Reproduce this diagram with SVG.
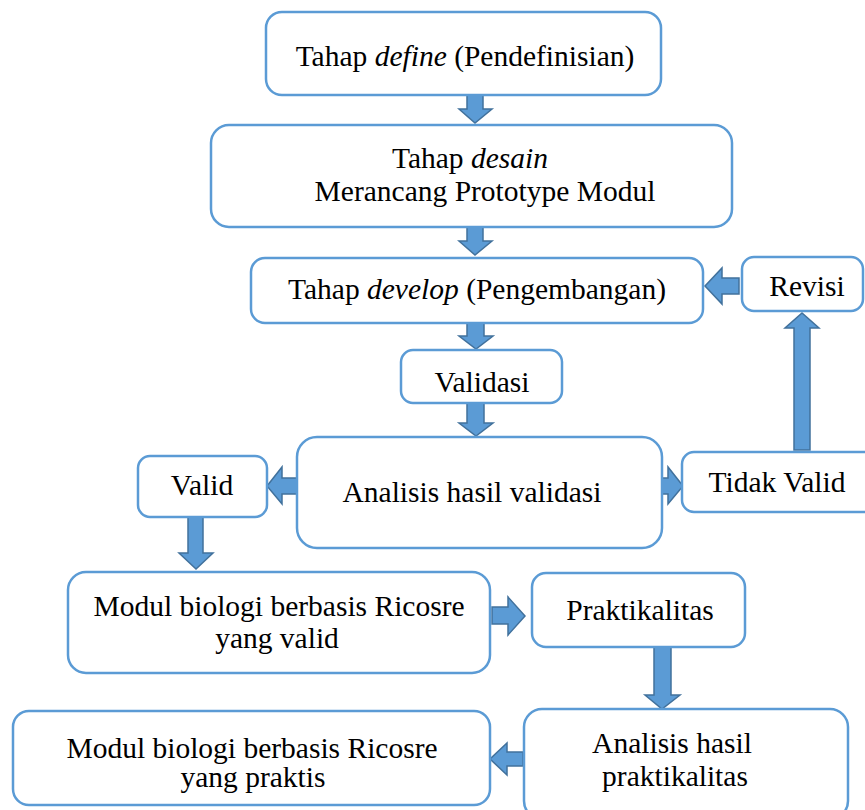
<svg xmlns="http://www.w3.org/2000/svg" width="865" height="810" viewBox="0 0 865 810">
<style>
.box{fill:#fff;stroke:#5B9BD5;stroke-width:2.5}
.arr{fill:#5B9BD5;stroke:#41719C;stroke-width:1.5;stroke-linejoin:miter}
text{font-family:"Liberation Serif","Times New Roman",serif;font-size:29.5px;fill:#000;text-anchor:middle}
</style>
<rect width="865" height="810" fill="#fff"/>
<g id="connectors">
<path class="arr" d="M467,95 H483 V109 H492 L475,123 L459,109 H467 Z"/>
<path class="arr" d="M467,227 H483 V241 H492 L475,255 L459,241 H467 Z"/>
<path class="arr" d="M467,323 H484 V336 H493 L476,349 L459,336 H467 Z"/>
<path class="arr" d="M467,403 H484 V423 H493 L476,436 L459,423 H467 Z"/>
<path class="arr" d="M739,278 V294 H722 V304 L705,286 L722,268 V278 Z"/>
<path class="arr" d="M794,450 V328 H785 L802,313 L819,328 H810 V450 Z"/>
<path class="arr" d="M297,478 V494 H282 V504 L267,486 L282,467 V478 Z"/>
<path class="arr" d="M662,478 H668 V467 L683,486 L668,504 V494 H662 Z"/>
<path class="arr" d="M188,517 H203 V553 H213 L196,569 L179,553 H188 Z"/>
<path class="arr" d="M492,607 H508 V597 L525,616 L508,635 V624 H492 Z"/>
<path class="arr" d="M654,647 H671 V695 H680 L662,709 L645,695 H654 Z"/>
<path class="arr" d="M523,752 V766 H507 V775 L490,759 L507,743 V752 Z"/>
</g>
<g id="define">
<rect class="box" x="266" y="12" width="395" height="83" rx="16"/>
<text x="465" y="66">Tahap <tspan font-style="italic">define</tspan> (Pendefinisian)</text>
</g>
<g id="desain">
<rect class="box" x="211" y="125" width="521" height="102" rx="18"/>
<text x="470" y="168">Tahap <tspan font-style="italic">desain</tspan></text>
<text x="485" y="201">Merancang Prototype Modul</text>
</g>
<g id="develop">
<rect class="box" x="251" y="258" width="452" height="65" rx="14"/>
<text x="477" y="299">Tahap <tspan font-style="italic">develop</tspan> (Pengembangan)</text>
</g>
<g id="revisi">
<rect class="box" x="742" y="257" width="121" height="54" rx="12"/>
<text x="807" y="296">Revisi</text>
</g>
<g id="validasi">
<rect class="box" x="401" y="350" width="161" height="53" rx="12"/>
<text x="482" y="392">Validasi</text>
</g>
<g id="analisis-validasi">
<rect class="box" x="297" y="437" width="365" height="111" rx="20"/>
<text x="472" y="502">Analisis hasil validasi</text>
</g>
<g id="valid">
<rect class="box" x="138" y="456" width="129" height="61" rx="12"/>
<text x="202" y="495">Valid</text>
</g>
<g id="tidak-valid">
<rect class="box" x="682" y="452" width="200" height="60" rx="12"/>
<text x="777" y="492">Tidak Valid</text>
</g>
<g id="modul-valid">
<rect class="box" x="68" y="572" width="422" height="101" rx="18"/>
<text x="279" y="616">Modul biologi berbasis Ricosre</text>
<text x="277" y="648">yang valid</text>
</g>
<g id="praktikalitas">
<rect class="box" x="532" y="573" width="213" height="74" rx="14"/>
<text x="640" y="620">Praktikalitas</text>
</g>
<g id="analisis-praktikalitas">
<rect class="box" x="524" y="709" width="324" height="110" rx="18"/>
<text x="672" y="753">Analisis hasil</text>
<text x="675" y="786">praktikalitas</text>
</g>
<g id="modul-praktis">
<rect class="box" x="13" y="711" width="477" height="94" rx="16"/>
<text x="252" y="758">Modul biologi berbasis Ricosre</text>
<text x="253" y="787">yang praktis</text>
</g>
</svg>
